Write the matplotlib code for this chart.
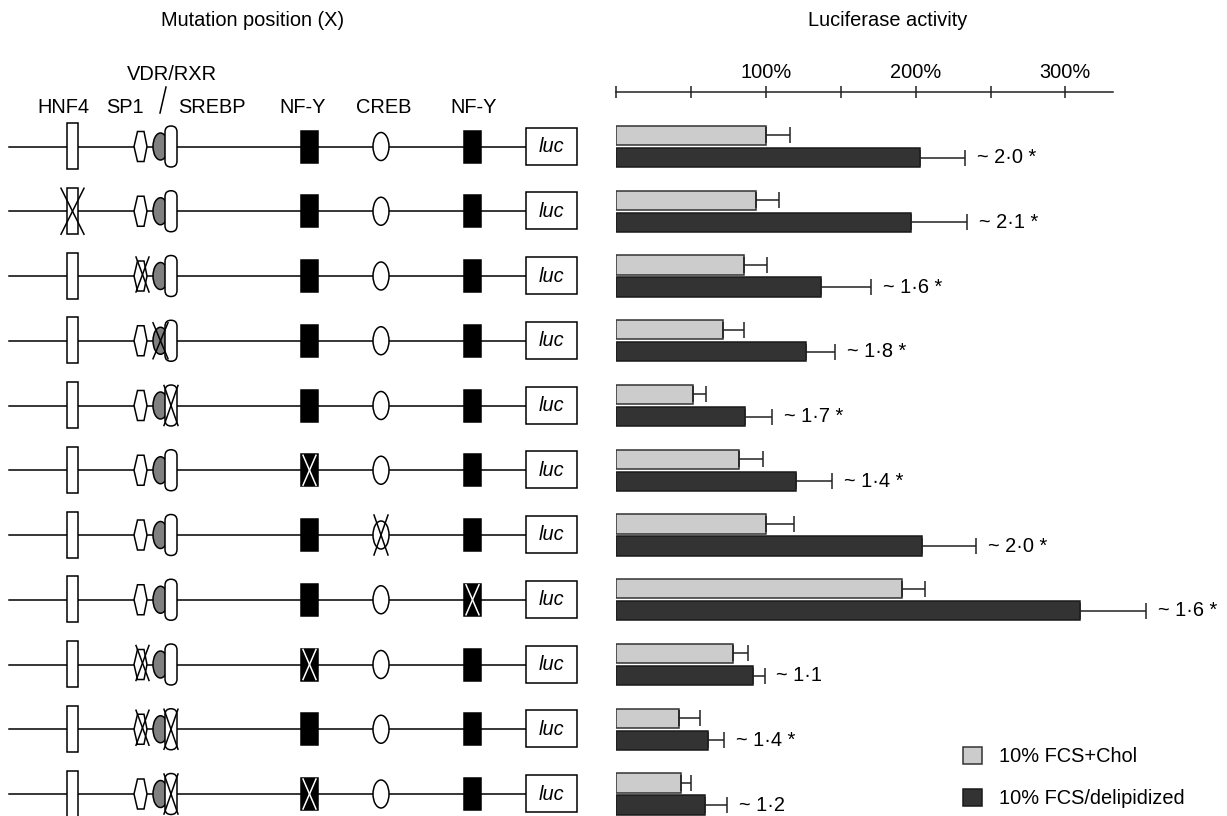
import matplotlib
matplotlib.use("Agg")
import matplotlib.pyplot as plt
from matplotlib.patches import Rectangle, Ellipse, Polygon, FancyBboxPatch

plt.rcParams['font.family'] = ['Liberation Sans', 'DejaVu Sans']
FS = 14.4

# --- data ---
# which elements of each construct carry a mutation (X)
mutations = [
    [], ['HNF4'], ['SP1'], ['VDR'], ['SREBP'], ['NFY1'], ['CREB'], ['NFY2'],
    ['SP1', 'NFY1'], ['SP1', 'SREBP'], ['SREBP', 'NFY1'],
]
chol_activity = [100, 93, 85, 71, 51, 82, 100, 191, 78, 42, 43]
chol_error = [16, 16, 16, 14, 9, 16, 19, 15, 10, 14, 7]
delip_activity = [203, 197, 137, 127, 86, 120, 204, 310, 91, 61, 59]
delip_error = [30, 37, 33, 19, 18, 24, 36, 44, 8, 11, 15]
fold_labels = ['~ 2·0 *', '~ 2·1 *', '~ 1·6 *', '~ 1·8 *', '~ 1·7 *', '~ 1·4 *',
               '~ 2·0 *', '~ 1·6 *', '~ 1·1', '~ 1·4 *', '~ 1·2']
axis_ticks = [0, 50, 100, 150, 200, 250, 300]
axis_labels = ['', '', '100%', '', '200%', '', '300%']
legend_labels = ['10% FCS+Chol', '10% FCS/delipidized']
element_labels = [('HNF4', 63), ('SP1', 125), ('SREBP', 212), ('NF-Y', 303),
                  ('CREB', 384), ('NF-Y', 474)]

W, H = 1227, 816
fig = plt.figure(figsize=(W / 100, H / 100), dpi=100)

# ---------- left: promoter constructs (pixel coordinates) ----------
axd = fig.add_axes([0, 0, 1, 1])
axd.set_xlim(0, W)
axd.set_ylim(H, 0)
axd.axis('off')

row0, step = 146.5, 64.75
lw = 1.1


def cross(x0, x1, y0, y1, color='black'):
    axd.plot([x0, x1], [y0, y1], color=color, lw=lw, zorder=5)
    axd.plot([x0, x1], [y1, y0], color=color, lw=lw, zorder=5)


for i, muts in enumerate(mutations):
    c = row0 + i * step
    axd.plot([9, 526], [c, c], color='black', lw=lw, zorder=1)
    # HNF4
    axd.add_patch(Rectangle((67, c - 23.5), 11, 46, fc='white', ec='black', lw=lw, zorder=2))
    # SP1 hexagon
    axd.add_patch(Polygon([(134, c), (137.5, c - 15), (144, c - 15), (147, c),
                           (144, c + 15), (137.5, c + 15)], closed=True,
                          fc='white', ec='black', lw=lw, zorder=2))
    # VDR/RXR
    axd.add_patch(Ellipse((160.5, c), 15, 27, fc='#808080', ec='black', lw=lw, zorder=2))
    # SREBP
    axd.add_patch(FancyBboxPatch((165, c - 20.5), 12, 41,
                                 boxstyle='round,pad=0,rounding_size=6',
                                 fc='white', ec='black', lw=lw, zorder=3))
    # NF-Y boxes
    axd.add_patch(Rectangle((301, c - 16), 17, 32, fc='black', ec='black', lw=lw, zorder=2))
    axd.add_patch(Rectangle((464, c - 16), 17, 32, fc='black', ec='black', lw=lw, zorder=2))
    # CREB
    axd.add_patch(Ellipse((381, c), 16, 28, fc='white', ec='black', lw=lw, zorder=2))
    # luc
    axd.add_patch(Rectangle((526, c - 19), 51, 37, fc='white', ec='black', lw=lw, zorder=2))
    axd.text(551.5, c, 'luc', style='italic', fontsize=FS, ha='center', va='center')

    if 'HNF4' in muts:
        cross(61, 84, c - 23, c + 23)
    if 'SP1' in muts:
        cross(136, 149, c - 19, c + 16)
    if 'VDR' in muts:
        cross(153, 168, c - 18, c + 18)
    if 'SREBP' in muts:
        cross(164, 178, c - 20, c + 20)
    if 'NFY1' in muts:
        cross(303, 316, c - 15, c + 15, color='white')
    if 'NFY2' in muts:
        cross(466, 479, c - 15, c + 15, color='white')
    if 'CREB' in muts:
        cross(374, 388, c - 20, c + 20)

for name, x in element_labels:
    axd.text(x, 113, name, fontsize=FS, ha='center', va='baseline')
axd.text(172, 80, 'VDR/RXR', fontsize=FS, ha='center', va='baseline')
axd.plot([160, 166], [113, 87], color='black', lw=lw)

axd.text(253, 20, 'Mutation position (X)', fontsize=FS, ha='center', va='center')
axd.text(888, 20, 'Luciferase activity', fontsize=FS, ha='center', va='center')

# ---------- right: luciferase activity bars ----------
x0_px, px_per = 616.3, 1.497
top_px = 92
ax = fig.add_axes([x0_px / W, 0, (W - x0_px) / W, (H - top_px) / H])
ax.patch.set_visible(False)
ax.set_xlim(0, (W - x0_px) / px_per)
ax.set_ylim((H - row0) / step, (top_px - row0) / step)

rows = list(range(len(chol_activity)))
off, bh = 0.17, 0.30
yl = [r - off for r in rows]
yd = [r + off for r in rows]
b1 = ax.barh(yl, chol_activity, height=bh, color='#cccccc', edgecolor='#333333',
             lw=1.1, label=legend_labels[0])
b2 = ax.barh(yd, delip_activity, height=bh, color='#333333', edgecolor='#1a1a1a',
             lw=1.1, label=legend_labels[1])
zeros = [0] * len(rows)
ax.errorbar(chol_activity, yl, xerr=[zeros, chol_error], fmt='none', ecolor='#222222',
            elinewidth=1.1, capsize=5.5, capthick=1.1, clip_on=False)
ax.errorbar(delip_activity, yd, xerr=[zeros, delip_error], fmt='none', ecolor='#222222',
            elinewidth=1.1, capsize=5.5, capthick=1.1, clip_on=False)
for y, v, e, lab in zip(yd, delip_activity, delip_error, fold_labels):
    ax.text(v + e + 8, y, lab, fontsize=FS, ha='left', va='center', clip_on=False)

for s in ['left', 'right', 'bottom']:
    ax.spines[s].set_visible(False)
ax.spines['top'].set_bounds(0, (1113 - x0_px) / px_per)
ax.spines['top'].set_linewidth(1.1)
ax.spines['top'].set_color('#222222')
ax.xaxis.tick_top()
ax.set_xticks(axis_ticks)
ax.set_xticklabels(axis_labels, fontsize=FS)
ax.tick_params(axis='x', direction='inout', length=8, width=1.1, pad=3, colors='#222222')
ax.tick_params(axis='x', labelcolor='black')
ax.set_yticks([])

ax.legend(handles=[b1, b2], loc='upper left', bbox_to_anchor=(963 / W, 1 - 747 / H),
          bbox_transform=fig.transFigure, frameon=False, fontsize=FS, borderpad=0,
          borderaxespad=0, handlelength=0.95, handleheight=0.95, handletextpad=0.85,
          labelspacing=1.1)

fig.savefig('out.png', dpi=100)
